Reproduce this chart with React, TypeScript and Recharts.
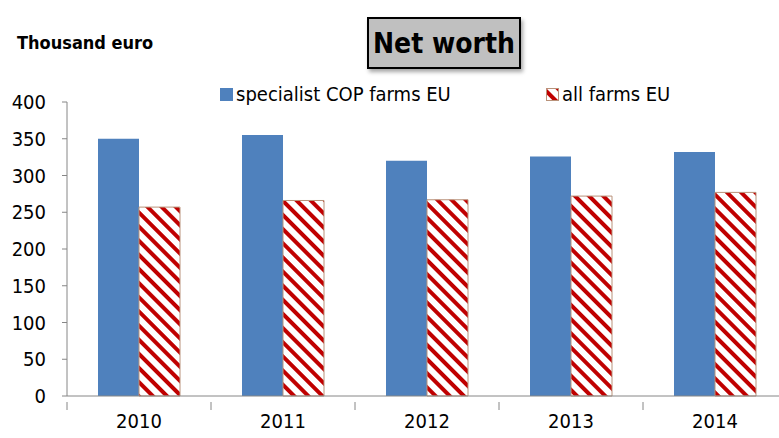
import React from 'react';
import { BarChart, Bar, XAxis, YAxis, Legend } from 'recharts';

const years = ['2010', '2011', '2012', '2013', '2014'];
const specialistCop = [350, 355, 320, 326, 332];
const allFarms = [257, 266, 267, 272, 277];
const yTicks = [0, 50, 100, 150, 200, 250, 300, 350, 400];

const data = years.map((year, i) => ({
    year,
    cop: specialistCop[i],
    all: allFarms[i]
}));

const FONT = '"Liberation Sans Narrow", "DejaVu Sans Condensed", sans-serif';
const CHART_W = 800;
const PLOT_LEFT = 67;
const PLOT_RIGHT = 13;
const LEGEND_H = 24;
const BAND = (CHART_W - PLOT_LEFT - PLOT_RIGHT) / years.length;

const YearTick = (props: any) => {
    const { x, y, payload } = props;
    return (
        <g>
            <line x1={x - BAND / 2} y1={y - 2} x2={x - BAND / 2} y2={y + 6} stroke="#868686" />
            <text x={x} y={y + 24} textAnchor="middle" fontSize={20} fontFamily={FONT} fill="#000">
                {payload.value}
            </text>
        </g>
    );
};

const LegendContent = () => (
    <div style={{ position: 'relative', height: LEGEND_H, fontFamily: FONT, fontSize: 20 }}>
        <div style={{ position: 'absolute', left: 220, top: 0, display: 'flex', alignItems: 'center' }}>
            <span style={{ width: 13, height: 13, background: '#4f81bd', marginRight: 3 }} />
            <span>specialist COP farms EU</span>
        </div>
        <div style={{ position: 'absolute', left: 546, top: 0, display: 'flex', alignItems: 'center' }}>
            <svg width={13} height={13} style={{ marginRight: 3 }}>
                <rect x={0.5} y={0.5} width={12} height={12} fill="url(#hatch)" stroke="#b9927a" />
            </svg>
            <span>all farms EU</span>
        </div>
    </div>
);

const App: React.FC = () => {
    return (
        <div style={{ position: 'absolute', left: 0, top: 0, width: 779, height: 438, overflow: 'hidden', background: 'white' }}>
            <svg width={0} height={0} style={{ position: 'absolute' }}>
                <defs>
                    <pattern id="hatch" patternUnits="userSpaceOnUse" width={10} height={10} patternTransform="rotate(45)">
                        <rect x={0} y={0} width={10} height={10} fill="white" />
                        <rect x={0} y={0} width={10} height={4} fill="#c00000" />
                    </pattern>
                </defs>
            </svg>

            <div style={{
                position: 'absolute', left: 17, top: 32, fontFamily: FONT, fontWeight: 'bold', fontSize: 18, color: '#000'
            }}>
                Thousand euro
            </div>

            <div style={{
                position: 'absolute', left: 367, top: 17, width: 150, height: 48,
                background: '#c0c0c0', border: '2px solid #000', boxShadow: '2px 3px 4px rgba(0,0,0,0.35)',
                display: 'flex', alignItems: 'center', justifyContent: 'center',
                fontFamily: FONT, fontWeight: 'bold', fontSize: 28, color: '#000'
            }}>
                Net worth
            </div>

            <BarChart
                width={CHART_W}
                height={438}
                data={data}
                margin={{ top: 102 - LEGEND_H, right: PLOT_RIGHT, bottom: 0, left: 0 }}
                barGap={0}
                barSize={41}
                style={{ position: 'absolute', left: 0, top: 0 }}
            >
                <XAxis
                    dataKey="year"
                    height={42}
                    tick={<YearTick />}
                    tickLine={false}
                    axisLine={{ stroke: '#868686' }}
                    interval={0}
                />
                <YAxis
                    width={PLOT_LEFT}
                    domain={[0, 400]}
                    ticks={yTicks}
                    interval={0}
                    tickSize={5}
                    tickMargin={16}
                    axisLine={{ stroke: '#868686' }}
                    tickLine={{ stroke: '#868686' }}
                    tick={{ fill: '#000', fontSize: 20, fontFamily: FONT }}
                />
                <Legend
                    verticalAlign="top"
                    content={<LegendContent />}
                    wrapperStyle={{ top: 82, left: 0, width: CHART_W, height: LEGEND_H }}
                />
                <Bar dataKey="cop" name="specialist COP farms EU" fill="#4f81bd" isAnimationActive={false} />
                <Bar dataKey="all" name="all farms EU" fill="url(#hatch)" stroke="#b9927a" strokeWidth={1} isAnimationActive={false} />
            </BarChart>
        </div>
    );
};

export default App;
